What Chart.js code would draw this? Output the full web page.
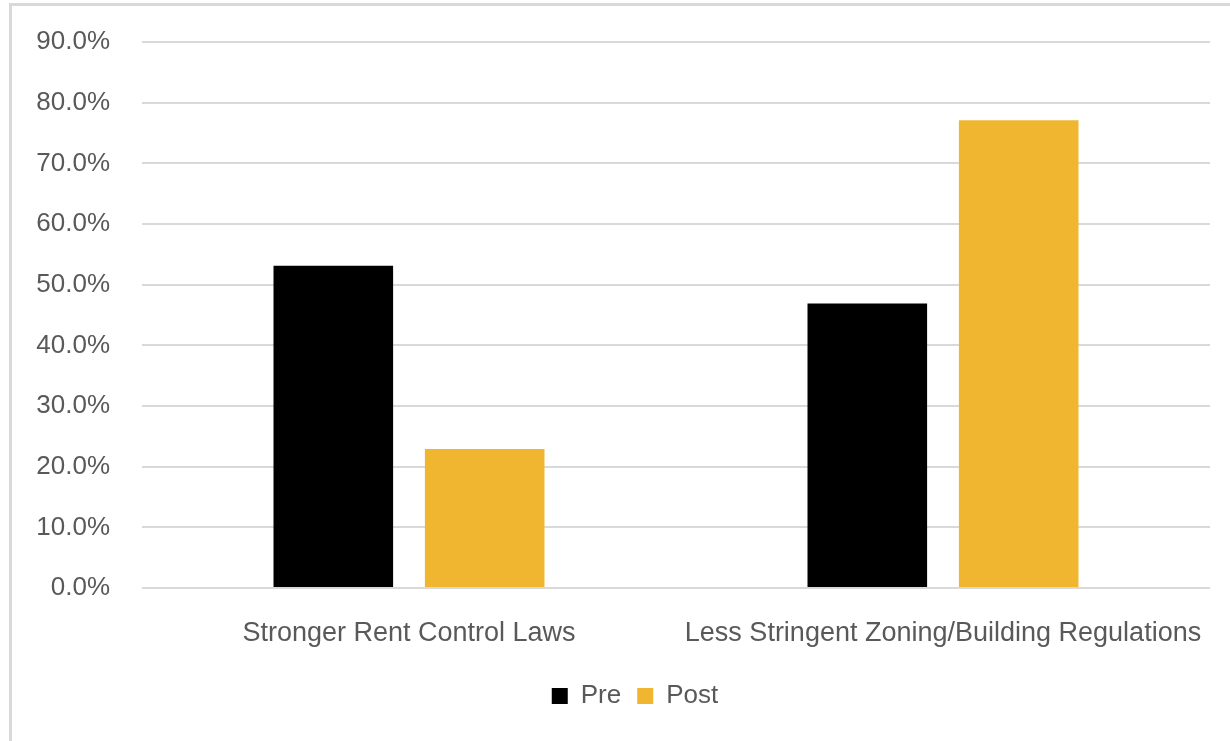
<!DOCTYPE html>
<html>
<head>
<meta charset="utf-8">
<script src="https://cdn.jsdelivr.net/npm/chart.js@4.4.1/dist/chart.umd.min.js"></script>
<style>
  html, body { margin: 0; padding: 0; background: #fff; }
  #wrap { position: relative; width: 1230px; height: 741px; overflow: hidden; }
  #frame {
    position: absolute; left: 9px; top: 3px; width: 1240px; height: 760px;
    border-left: 3px solid #d9d9d9; border-top: 3px solid #d9d9d9;
  }
  #myChart { position: absolute; left: 0; top: 0; }
</style>
</head>
<body>
<div id="wrap">
  <div id="frame"></div>
  <canvas id="myChart" width="1230" height="741"></canvas>
</div>
<script>
const categories = ['Stronger Rent Control Laws', 'Less Stringent Zoning/Building Regulations'];
const preValues = [53.1, 46.9];
const postValues = [22.9, 77.1];
const seriesNames = ['Pre', 'Post'];
const yTicks = [0, 10, 20, 30, 40, 50, 60, 70, 80, 90];

const textColor = '#595959';
const ctx = document.getElementById('myChart').getContext('2d');

// legend sits a bit right of the canvas centre in the original
const legendShift = {
  id: 'legendShift',
  afterLayout(chart) {
    chart.legend.left += 30;
    chart.legend.right += 30;
  }
};

new Chart(ctx, {
  type: 'bar',
  data: {
    labels: categories,
    datasets: [
      {
        label: seriesNames[0],
        data: preValues,
        backgroundColor: '#000000',
        categoryPercentage: 0.567,
        barPercentage: 0.79
      },
      {
        label: seriesNames[1],
        data: postValues,
        backgroundColor: '#F0B62F',
        categoryPercentage: 0.567,
        barPercentage: 0.79
      }
    ]
  },
  options: {
    responsive: false,
    animation: false,
    layout: {
      padding: { left: 0, right: 20, top: 42, bottom: 22 }
    },
    plugins: {
      tooltip: { enabled: false },
      legend: {
        position: 'bottom',
        labels: {
          color: textColor,
          font: { family: 'Liberation Sans', size: 26 },
          boxWidth: 16,
          boxHeight: 16,
          padding: 16
        }
      }
    },
    scales: {
      x: {
        grid: { display: false },
        border: { display: false },
        ticks: {
          color: textColor,
          font: { family: 'Liberation Sans', size: 27 },
          padding: 21,
          maxRotation: 0,
          autoSkip: false
        },
        afterFit: (scale) => { scale.height = 79; }
      },
      y: {
        min: 0,
        max: 90,
        afterBuildTicks: (scale) => {
          scale.ticks = yTicks.map(v => ({ value: v }));
        },
        afterFit: (scale) => {
          scale.width = 142;
          // tick padding would otherwise push the plot top down
          scale.paddingTop = 0;
          scale.paddingBottom = 0;
        },
        grid: {
          color: '#d9d9d9',
          lineWidth: 2,
          drawTicks: false
        },
        border: { display: false },
        ticks: {
          color: textColor,
          font: { family: 'Liberation Sans', size: 26 },
          padding: 32,
          callback: (value) => value.toFixed(1) + '%'
        }
      }
    }
  },
  plugins: [legendShift]
});
</script>
</body>
</html>
